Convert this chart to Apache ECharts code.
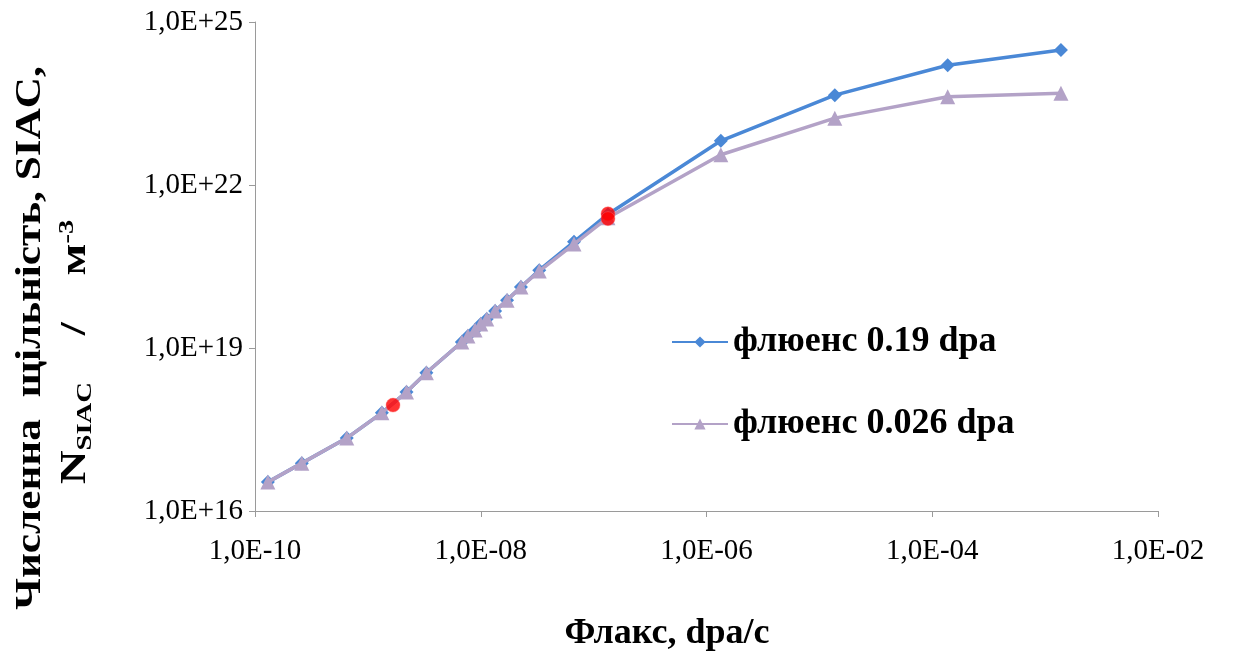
<!DOCTYPE html>
<html><head><meta charset="utf-8">
<script src="https://cdn.jsdelivr.net/npm/echarts@6/dist/echarts.min.js"></script>
<style>html,body{margin:0;padding:0;background:#fff}#c{width:1234px;height:655px}</style>
</head><body><div id="c"></div>
<script>
// Flux values, dpa/s
const flux = [1.3e-10, 2.6e-10, 6.5e-10, 1.33e-9, 2.2e-9, 3.3e-9, 6.8e-9, 7.7e-9, 8.9e-9, 1.0e-8, 1.13e-8, 1.34e-8, 1.71e-8, 2.27e-8, 3.3e-8, 6.7e-8, 1.34e-7, 1.34e-6, 1.37e-5, 1.37e-4, 1.38e-3];
// SIAC number density, m^-3
const density019 = [3.4e16, 7.6e16, 2.2e17, 6.4e17, 1.55e18, 3.5e18, 1.29e19, 1.66e19, 2.14e19, 2.76e19, 3.41e19, 4.8e19, 7.6e19, 1.33e20, 2.7e20, 9.0e20, 2.9e21, 6.5e22, 4.5e23, 1.6e24, 3.05e24];
const density0026 = [3.4e16, 7.6e16, 2.2e17, 6.4e17, 1.55e18, 3.5e18, 1.29e19, 1.66e19, 2.14e19, 2.76e19, 3.41e19, 4.8e19, 7.6e19, 1.33e20, 2.6e20, 8.2e20, 2.5e21, 3.6e22, 1.7e23, 4.2e23, 4.9e23];
// highlighted (red) points
const markedFlux = [1.67e-9, 1.34e-7, 1.34e-7];
const markedDensity = [8.9e17, 2.95e21, 2.4e21];

const seriesNames = ['флюенс 0.19 dpa', 'флюенс 0.026 dpa'];
const xTitle = 'Флакс, dpa/c';
const yTitle1 = 'Численна  щільність, SIAC,';

function sci(v) {
  const e = Math.round(Math.log10(v));
  return '1,0E' + (e < 0 ? '-' : '+') + String(Math.abs(e)).padStart(2, '0');
}
const pairs = (xs, ys) => xs.map((x, i) => [x, ys[i]]);
const FONT = '"Liberation Serif", "Times New Roman", serif';

const chart = echarts.init(document.getElementById('c'), null, {renderer: 'canvas'});
chart.setOption({
  animation: false,
  backgroundColor: '#fff',
  grid: {left: 255, right: 76, top: 22, bottom: 144, containLabel: false},
  legend: {
    orient: 'vertical', left: 666, top: 319, itemGap: 46,
    itemWidth: 56, itemHeight: 14,
    textStyle: {fontFamily: FONT, fontWeight: 'bold', fontSize: 36, color: '#000', lineHeight: 30},
    data: seriesNames
  },
  xAxis: {
    type: 'log', logBase: 10, min: 1e-10, max: 1e-2, interval: 2,
    axisLine: {show: true, lineStyle: {color: '#9a9a9a', width: 1}},
    axisTick: {show: true, length: 6, lineStyle: {color: '#9a9a9a'}},
    splitLine: {show: false}, minorTick: {show: false},
    axisLabel: {fontFamily: FONT, fontSize: 29, color: '#000', margin: 26, formatter: sci}
  },
  yAxis: {
    type: 'log', logBase: 10, min: 1e16, max: 1e25, interval: 3,
    axisLine: {show: true, lineStyle: {color: '#9a9a9a', width: 1}},
    axisTick: {show: true, length: 6, lineStyle: {color: '#9a9a9a'}},
    splitLine: {show: false}, minorTick: {show: false},
    axisLabel: {fontFamily: FONT, fontSize: 29, color: '#000', margin: 12, formatter: sci}
  },
  graphic: [
    {type: 'text', x: 31, y: 338, rotation: Math.PI / 2, scaleX: 1.2,
     style: {text: yTitle1, font: 'bold 36px ' + FONT, fill: '#000', align: 'center', verticalAlign: 'middle', textAlign: 'center', textVerticalAlign: 'middle'}},
    {type: 'text', x: 76, y: 352, rotation: Math.PI / 2, scaleX: 1.3,
     style: {
       text: '{n|N}{s|SIAC}{n|    /    м}{p|-3}',
       fill: '#000', align: 'center', verticalAlign: 'middle', textAlign: 'center', textVerticalAlign: 'middle',
       rich: {
         n: {fontFamily: FONT, fontWeight: 'bold', fontSize: 36, lineHeight: 40, fill: '#000'},
         s: {fontFamily: FONT, fontWeight: 'bold', fontSize: 22, lineHeight: 40, verticalAlign: 'bottom', fill: '#000'},
         p: {fontFamily: FONT, fontWeight: 'bold', fontSize: 22, lineHeight: 40, verticalAlign: 'top', fill: '#000'}
       }
     }},
    {type: 'text', x: 667, y: 634,
     style: {text: xTitle, font: 'bold 36px ' + FONT, fill: '#000', align: 'center', verticalAlign: 'middle', textAlign: 'center', textVerticalAlign: 'middle'}}
  ],
  series: [
    {name: seriesNames[0], type: 'line', data: pairs(flux, density019),
     symbol: 'diamond', symbolSize: 14, showAllSymbol: true,
     lineStyle: {color: '#4a88d6', width: 3.5}, itemStyle: {color: '#4a88d6'}, z: 2},
    {name: seriesNames[1], type: 'line', data: pairs(flux, density0026),
     symbol: 'triangle', symbolSize: 15, showAllSymbol: true,
     lineStyle: {color: '#b3a2c7', width: 3.5}, itemStyle: {color: '#b3a2c7'}, z: 3},
    {name: 'marked', type: 'scatter', data: pairs(markedFlux, markedDensity),
     symbol: 'circle', symbolSize: 14, itemStyle: {color: '#ff0000', borderColor: '#ff6666', borderWidth: 0.5}, z: 4}
  ]
});
</script></body></html>
